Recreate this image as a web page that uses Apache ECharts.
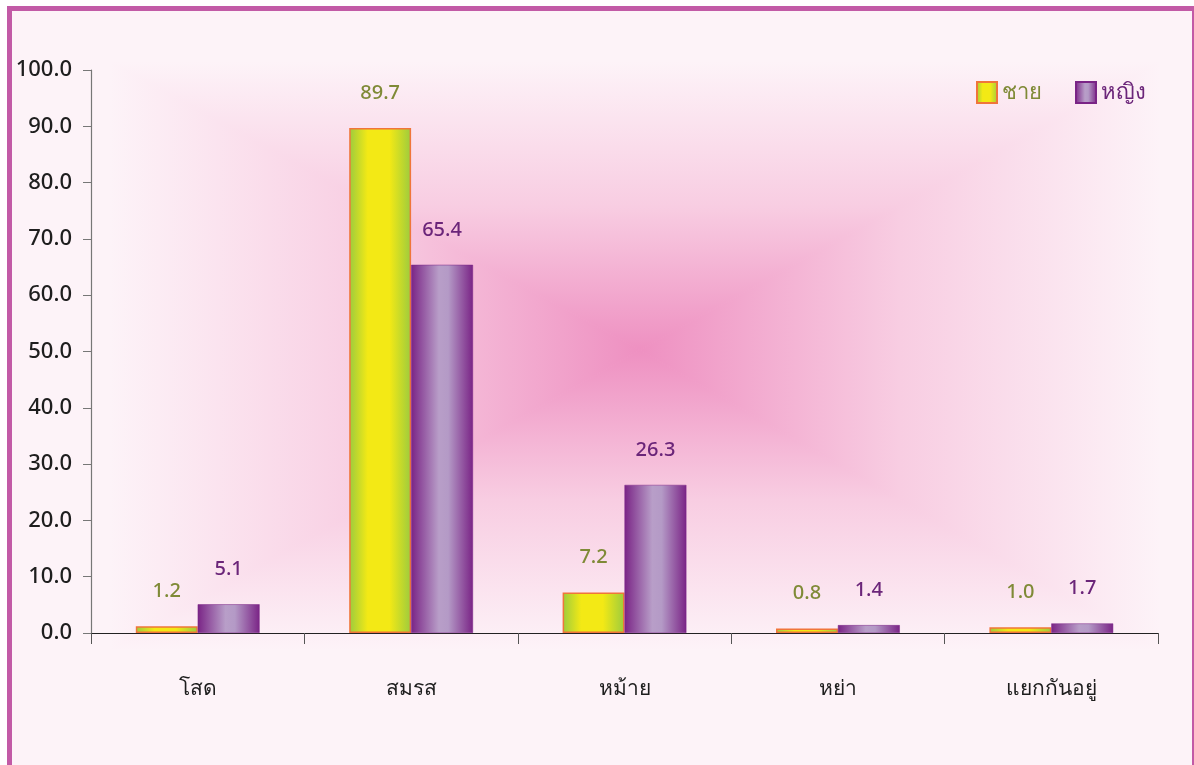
<!DOCTYPE html>
<html>
<head>
<meta charset="utf-8">
<script src="https://cdn.jsdelivr.net/npm/echarts@6/dist/echarts.min.js"></script>
<style>
* { margin: 0; padding: 0; }
html, body { width: 1194px; height: 765px; background: #ffffff; overflow: hidden; }
#chart { width: 1194px; height: 765px; }
</style>
</head>
<body>
<div id="chart"></div>
<script>
const categories = ["โสด", "สมรส", "หม้าย", "หย่า", "แยกกันอยู่"];
const seriesNames = ["ชาย", "หญิง"];
const maleValues = [1.2, 89.7, 7.2, 0.8, 1.0];
const femaleValues = [5.1, 65.4, 26.3, 1.4, 1.7];
const yTicks = [0, 100, 10]; // min, max, interval

const dom = document.getElementById("chart");
const myChart = echarts.init(dom, null, { renderer: "canvas" });

const FONT = "Noto Sans, Lato, sans-serif";
const maleColor = "#7f8a36";
const femaleColor = "#6b2579";

const maleFill = new echarts.graphic.LinearGradient(0, 0, 1, 0, [
  { offset: 0, color: "#9ccb3e" },
  { offset: 0.3, color: "#f3e915" },
  { offset: 0.65, color: "#f3e915" },
  { offset: 1, color: "#9ccb3e" },
]);
const femaleFill = new echarts.graphic.LinearGradient(0, 0, 1, 0, [
  { offset: 0, color: "#7a2486" },
  { offset: 0.45, color: "#b89ec8" },
  { offset: 0.6, color: "#b49ac6" },
  { offset: 1, color: "#7a2486" },
]);

// background "rectangular" pink glow (four triangles fading to centre)
const bx0 = 110, by0 = 62, bx1 = 1160, by1 = 650, cx = 640, cy = 350;
function tri(points, x1, y1, x2, y2) {
  const grad = () => new echarts.graphic.LinearGradient(x1, y1, x2, y2, [
    { offset: 0, color: "#fdf3f8" },
    { offset: 0.5, color: "#f8cde2" },
    { offset: 1, color: "#ee90c1" },
  ]);
  return {
    type: "polygon",
    silent: true,
    z: -10,
    shape: { points: points },
    style: { fill: grad(), stroke: grad(), lineWidth: 1 },
  };
}

const option = {
  backgroundColor: "#fdf3f8",
  animation: false,
  graphic: [
    { type: "rect", silent: true, z: -20, shape: { x: 0, y: 0, width: 1194, height: 6 }, style: { fill: "#ffffff" } },
    { type: "rect", silent: true, z: -20, shape: { x: 0, y: 0, width: 7, height: 765 }, style: { fill: "#ffffff" } },
    tri([[bx0, by0], [bx1, by0], [cx, cy]], 0, 0, 0, 1),
    tri([[bx0, by1], [bx1, by1], [cx, cy]], 0, 1, 0, 0),
    tri([[bx0, by0], [bx0, by1], [cx, cy]], 0, 0, 1, 0),
    tri([[bx1, by0], [bx1, by1], [cx, cy]], 1, 0, 0, 0),
    { type: "rect", silent: true, z: 100, shape: { x: 7, y: 6, width: 1187, height: 5 }, style: { fill: "#c25aa6" } },
    { type: "rect", silent: true, z: 100, shape: { x: 7, y: 6, width: 5, height: 759 }, style: { fill: "#c25aa6" } },
    { type: "rect", silent: true, z: 100, shape: { x: 1192, y: 6, width: 2, height: 759 }, style: { fill: "#c25aa6" } },
  ],
  legend: {
    top: 76,
    right: 43,
    itemWidth: 20,
    itemHeight: 21,
    itemGap: 33,
    icon: "rect",
    data: [
      { name: seriesNames[0], textStyle: { color: maleColor } },
      { name: seriesNames[1], textStyle: { color: femaleColor } },
    ],
    textStyle: { fontFamily: FONT, fontSize: 22, fontWeight: 500 },
  },
  grid: { left: 91, right: 36, top: 70, bottom: 132, containLabel: false },
  xAxis: {
    type: "category",
    data: categories,
    axisLine: { lineStyle: { color: "#222", width: 1.2 } },
    axisTick: { show: true, length: 11, lineStyle: { color: "#555" } },
    axisLabel: { margin: 46, fontFamily: FONT, fontSize: 21, fontWeight: 500, color: "#1e1e1e" },
  },
  yAxis: {
    type: "value",
    min: yTicks[0],
    max: yTicks[1],
    interval: yTicks[2],
    axisLine: { show: true, lineStyle: { color: "#777", width: 1.2 } },
    axisTick: { show: true, length: 8, lineStyle: { color: "#777" } },
    splitLine: { show: false },
    axisLabel: {
      margin: 19,
      fontFamily: FONT,
      fontSize: 22,
      fontWeight: 500,
      color: "#1e1e1e",
      formatter: (v) => v.toFixed(1),
    },
  },
  series: [
    {
      name: seriesNames[0],
      type: "bar",
      data: maleValues,
      barWidth: "29%",
      barGap: "0%",
      itemStyle: { color: maleFill, borderColor: "#f0753a", borderWidth: 1.5 },
      label: {
        show: true,
        position: "top",
        distance: 25,
        fontFamily: FONT,
        fontSize: 20,
        fontWeight: 500,
        color: maleColor,
        formatter: (p) => p.value.toFixed(1),
      },
    },
    {
      name: seriesNames[1],
      type: "bar",
      data: femaleValues,
      barWidth: "29%",
      itemStyle: { color: femaleFill, borderColor: "#7a2486", borderWidth: 0.5 },
      label: {
        show: true,
        position: "top",
        distance: 25,
        fontFamily: FONT,
        fontSize: 20,
        fontWeight: 500,
        color: femaleColor,
        formatter: (p) => p.value.toFixed(1),
      },
    },
  ],
};

myChart.setOption(option);
window.addEventListener("resize", myChart.resize);
</script>
</body>
</html>
